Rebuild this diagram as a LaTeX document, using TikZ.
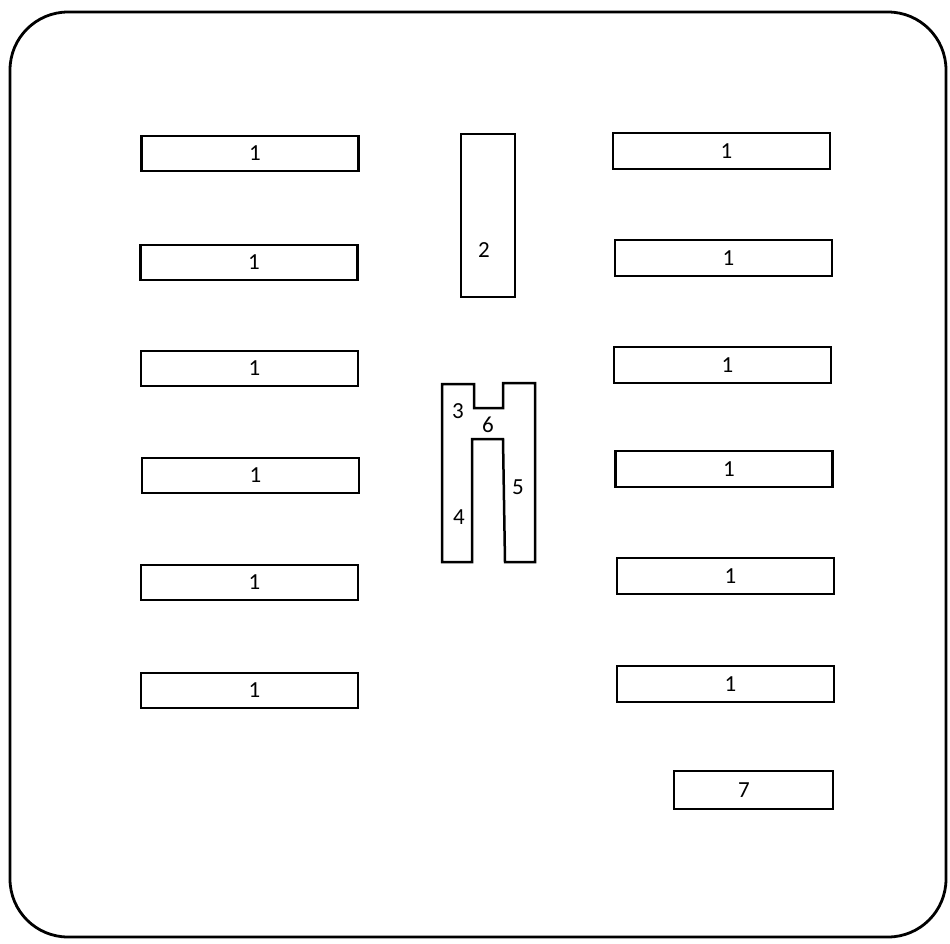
\documentclass[tikz,border=0pt]{standalone}
\usepackage{fontspec}
\setmainfont{Carlito}
\begin{document}
\begin{tikzpicture}[x=1pt,y=-1pt,
  lbl/.style={inner sep=0pt,font=\fontsize{23}{24}\selectfont},
  box/.style={draw=black,line width=2.5pt,inner sep=0pt,minimum width=217pt,minimum height=35pt},
  one/.style={label={[lbl,xshift=5pt]center:1}}]
\useasboundingbox (0,0) rectangle (950,943);
\draw[line width=2.8pt,rounded corners=58pt] (10,12) rectangle (946,937);
% left column
\node[box,one] (l1) at (250,153.5) {};
\node[box,one] (l2) at (249,262.5) {};
\node[box,one] (l3) at (249.5,368.5) {};
\node[box,one] (l4) at (250.5,475.5) {};
\node[box,one] (l5) at (249.5,582.5) {};
\node[box,one] (l6) at (249.5,690.5) {};
% right column
\node[box,one,minimum height=36pt] (r1) at (721.5,151) {};
\node[box,one,minimum height=36pt] (r2) at (723.5,258) {};
\node[box,one,minimum height=36pt] (r3) at (722.5,365) {};
\node[box,one,minimum height=36pt] (r4) at (724,469) {};
\node[box,one,minimum height=36pt] (r5) at (725.5,576) {};
\node[box,one,minimum height=36pt] (r6) at (725.5,684) {};
% box 2
\node[box,minimum width=54pt,minimum height=163pt] (b2) at (488,215.5) {};
\node[lbl] (b2l) at (484,250) {2};
% box 7
\node[box,minimum width=159pt,minimum height=38pt] (b7) at (753.5,790) {};
\node[lbl] (b7l) at (744,790) {7};
% H shape
\draw[line width=2.5pt,line join=miter] (442,384) -- (474,384) -- (474,408) -- (503,408) -- (503,383) -- (535,383) -- (535,562) -- (505,562) -- (503,439) -- (472,439) -- (472,562) -- (442,562) -- cycle;
\node[lbl] (h3) at (458,411) {3};
\node[lbl] (h6) at (488,425) {6};
\node[lbl] (h5) at (518,487) {5};
\node[lbl] (h4) at (459,517) {4};
\end{tikzpicture}
\end{document}
